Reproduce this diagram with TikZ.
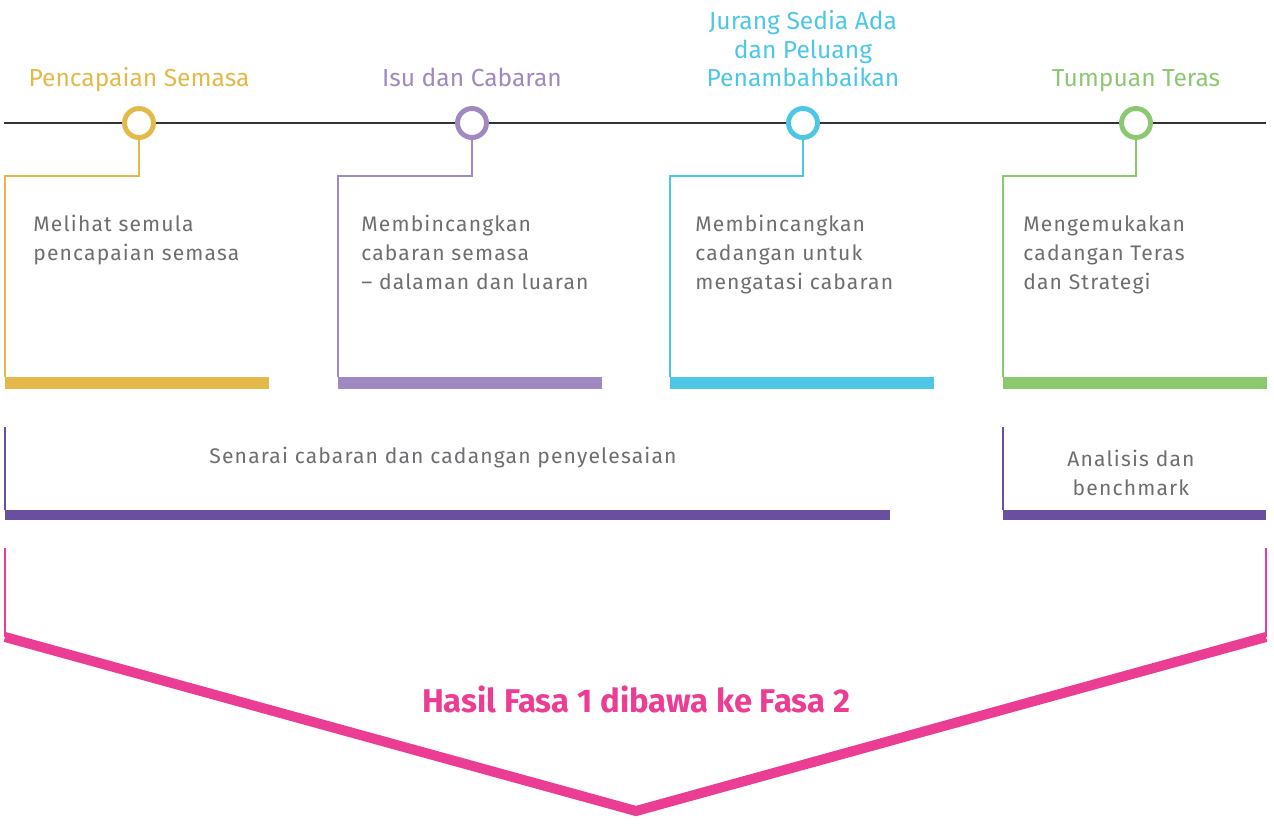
\documentclass[tikz,border=0pt]{standalone}
\usepackage{fontspec}
\setmainfont{Fira Sans}
\usetikzlibrary{positioning}
\definecolor{kuning}{HTML}{E5B84A}
\definecolor{ungu}{HTML}{A088C0}
\definecolor{biru}{HTML}{4DC7E5}
\definecolor{hijau}{HTML}{8CC870}
\definecolor{unguTua}{HTML}{6A4FA0}
\definecolor{merahJambu}{HTML}{EC3D94}
\definecolor{teks}{HTML}{6D6E71}
\definecolor{garis}{HTML}{333333}
\newfontfamily\lebar[LetterSpace=5.5]{Fira Sans}
\tikzset{
  tanda/.style={circle,draw=#1,fill=white,line width=2.8pt,minimum size=0.58cm,inner sep=0pt},
  tajuk/.style={text=#1,font=\fontsize{14pt}{16pt}\selectfont,align=center,inner sep=0pt},
  isi/.style={text=teks,font=\lebar\fontsize{12pt}{16.5pt}\selectfont,align=left,inner sep=0pt,anchor=north west},
  sambung/.style={draw=#1,line width=1.1pt},
}
\begin{document}
\begin{tikzpicture}[x=0.02cm,y=-0.02cm,line join=miter]
			\useasboundingbox (0,0) rectangle (1274,825);
			\path (4,123) coordinate (L)
			(1266,123) coordinate (R)
			(5,510) coordinate (S1)
			(890,520) coordinate (S2)
			(1003,510) coordinate (A1)
			(1266,520) coordinate (A2)
			(5,637) coordinate (V1)
			(636,811) coordinate (V2)
			(1266,637) coordinate (V3)
			;
			\draw[garis,line width=1.2pt] (L)--(R);
			\foreach \x/\l/\k/\w/\t/\b/\n in {139/5/33/kuning/{Pencapaian Semasa}/{Melihat semula\\pencapaian semasa}/1,
				472/338/361/ungu/{Isu dan Cabaran}/{Membincangkan\\cabaran semasa\\– dalaman dan luaran}/2,
				803/670/695/biru/{Jurang Sedia Ada\\dan Peluang\\Penambahbaikan}/{Membincangkan\\cadangan untuk\\mengatasi cabaran}/3,
				1136/1003/1023/hijau/{Tumpuan Teras}/{Mengemukakan\\cadangan Teras\\dan Strategi}/4}{
				\node[tanda=\w] (c\n) at (\x,123) {};
				\node[tajuk=\w,anchor=south] (t\n) at (\x,95) {\t\strut};
				\path (\l,377) coordinate (p\n);
				\fill[\w] (p\n) rectangle ++(264,12);
				\draw[sambung=\w] (c\n.south)--++(0,36) -| (p\n);
				\node[isi] (b\n) at (\k,215) {\b};
			}
			% senarai dan analisis
			\fill[unguTua] (S1) rectangle (S2);
			\fill[unguTua] (A1) rectangle (A2);
			\draw[sambung=unguTua] (5,427) coordinate (s0) -- (S1);
			\draw[sambung=unguTua] (1003,427) coordinate (a0) -- (A1);
			\node[text=teks,font=\lebar\fontsize{12pt}{16.5pt}\selectfont] (senarai) at (443,458) {Senarai cabaran dan cadangan penyelesaian};
			\node[text=teks,font=\lebar\fontsize{12pt}{16.5pt}\selectfont,align=center] (analisis) at (1131,473) {Analisis dan\\benchmark};
			% hasil
			\draw[sambung=merahJambu] (5,548) coordinate (h1) -- (V1);
			\draw[sambung=merahJambu] (1266,548) coordinate (h2) -- (V3);
			\draw[merahJambu,line width=0.2cm] (V1)--(V2)--(V3);
			\node[text=merahJambu,font=\bfseries\fontsize{18.7pt}{21pt}\selectfont] (hasil) at (636,699) {Hasil Fasa 1 dibawa ke Fasa 2};
		\end{tikzpicture}
\end{document}
